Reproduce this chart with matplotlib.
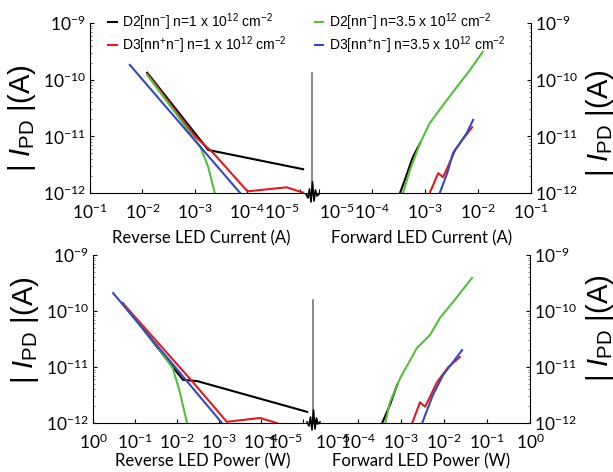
import numpy as np
import matplotlib
matplotlib.use("Agg")
import matplotlib.pyplot as plt
from matplotlib.lines import Line2D

plt.rcParams['font.family'] = ['Lato', 'DejaVu Sans']
plt.rcParams['mathtext.fontset'] = 'custom'
plt.rcParams['mathtext.rm'] = 'Liberation Sans'
plt.rcParams['mathtext.it'] = 'Liberation Sans:italic'
plt.rcParams['mathtext.bf'] = 'Liberation Sans:bold'

# ---- data ----
labels = [r"D2[nn$^{-}$] n=1 x 10$^{12}$ cm$^{-2}$",
          r"D3[nn$^{+}$n$^{-}$] n=1 x 10$^{12}$ cm$^{-2}$",
          r"D2[nn$^{-}$] n=3.5 x 10$^{12}$ cm$^{-2}$",
          r"D3[nn$^{+}$n$^{-}$] n=3.5 x 10$^{12}$ cm$^{-2}$"]
colors = ['black', '#e3191f', '#55bf3b', '#3548c4']

# reverse LED current (A) vs |I_PD| (A)
rc_black_x = [8.1e-3, 5.6e-4, 8.7e-6]
rc_black_y = [1.32e-10, 5.75e-12, 2.63e-12]
rc_red_x = [8.1e-3, 1.0e-3, 4.5e-4, 1.0e-4, 1.8e-5, 8.7e-6]
rc_red_y = [1.26e-10, 1.0e-11, 5.1e-12, 1.07e-12, 1.26e-12, 1.02e-12]
rc_green_x = [8.1e-3, 2.5e-3, 7.9e-4, 5.6e-4, 4.2e-4]
rc_green_y = [1.2e-10, 2.8e-11, 6.5e-12, 2.9e-12, 1.0e-12]
rc_blue_x = [1.74e-2, 1.38e-4]
rc_blue_y = [1.82e-10, 1.0e-12]

# forward LED current (A)
fc_black_x = [3.39e-4, 4.17e-4, 5.89e-4, 8.1e-4]
fc_black_y = [1.0e-12, 1.7e-12, 4.27e-12, 7.6e-12]
fc_red_x = [1.23e-3, 1.78e-3, 2.19e-3, 2.69e-3, 3.72e-3, 5.0e-3, 7.76e-3]
fc_red_y = [1.0e-12, 2.24e-12, 1.9e-12, 2.88e-12, 5.75e-12, 8.5e-12, 1.45e-11]
fc_green_x = [3.85e-4, 5.25e-4, 8.1e-4, 1.23e-3, 2.19e-3, 3.98e-3, 7.08e-3, 1.23e-2]
fc_green_y = [1.0e-12, 2.57e-12, 7.6e-12, 1.7e-11, 3.55e-11, 7.4e-11, 1.48e-10, 3.1e-10]
fc_blue_x = [1.9e-3, 2.63e-3, 3.39e-3, 4.57e-3, 6.17e-3, 8.1e-3]
fc_blue_y = [1.0e-12, 2.24e-12, 5.1e-12, 7.6e-12, 1.15e-11, 1.95e-11]

# reverse LED power (W)
rp_black_x = [0.195, 1.26e-2, 7.2e-3, 3.3e-3, 7.9e-6]
rp_black_y = [1.38e-10, 1.0e-11, 5.9e-12, 5.6e-12, 1.58e-12]
rp_red_x = [0.195, 4.2e-3, 6.5e-4, 1.05e-4, 4.2e-5]
rp_red_y = [1.38e-10, 5.4e-12, 1.05e-12, 1.23e-12, 1.0e-12]
rp_green_x = [0.195, 3.16e-2, 1.26e-2, 8.9e-3, 5.75e-3]
rp_green_y = [1.32e-10, 2.5e-11, 9.5e-12, 4.0e-12, 1.0e-12]
rp_blue_x = [0.331, 8.5e-4]
rp_blue_y = [2.09e-10, 1.0e-12]

# forward LED power (W)
fp_black_x = [3.63e-4, 5.5e-4, 8.1e-4]
fp_black_y = [1.0e-12, 2.1e-12, 4.8e-12]
fp_red_x = [1.82e-3, 2.75e-3, 3.63e-3, 6.9e-3, 1.26e-2, 2.34e-2]
fp_red_y = [1.0e-12, 2.34e-12, 1.95e-12, 5.4e-12, 1.0e-11, 1.51e-11]
fp_green_x = [4.27e-4, 5.5e-4, 9.5e-4, 2.34e-3, 4.68e-3, 8.1e-3, 1.62e-2, 4.47e-2]
fp_green_y = [1.0e-12, 2.34e-12, 6.3e-12, 2.19e-11, 3.7e-11, 7.6e-11, 1.45e-10, 3.9e-10]
fp_blue_x = [3.1e-3, 5.5e-3, 9.5e-3, 2.63e-2]
fp_blue_y = [1.0e-12, 3.16e-12, 7.2e-12, 2.0e-11]

W, H = 613, 472
fig = plt.figure(figsize=(W / 100, H / 100), dpi=100)


def px_axes(x0, x1, ytop, ybot):
    return fig.add_axes([x0 / W, 1 - ybot / H, (x1 - x0) / W, (ybot - ytop) / H])


def style(ax, side):
    ax.set_xscale('log')
    ax.set_yscale('log')
    ax.set_ylim(1e-12, 1e-9)
    ax.spines['top'].set_visible(False)
    ax.spines[side].set_visible(False)
    ax.tick_params(which='both', direction='in', labelsize=12.5, pad=3)
    ax.tick_params(axis='x', which='both', pad=7)
    ax.tick_params(which='major', length=3)
    ax.tick_params(which='minor', length=1.5, color='0.4')
    ax.tick_params(axis='x', which='both', top=False)
    if side == 'right':
        ax.tick_params(axis='y', which='both', right=False)
    else:
        ax.tick_params(axis='y', which='both', left=False, right=True,
                       labelleft=False, labelright=True)
    for s in ax.spines.values():
        s.set_linewidth(0.8)


def draw(ax, series):
    for (x, y), c in zip(series, colors):
        ax.plot(x, y, color=c, lw=1.5, solid_joinstyle='round')


# top panel
ax1 = px_axes(90, 312, 23, 193)
ax2 = px_axes(312, 531, 23, 193)
# bottom panel
ax3 = px_axes(93, 313, 255, 423)
ax4 = px_axes(313, 530, 255, 423)

style(ax1, 'right')
style(ax2, 'left')
style(ax3, 'right')
style(ax4, 'left')

draw(ax1, [(rc_black_x, rc_black_y), (rc_red_x, rc_red_y),
           (rc_green_x, rc_green_y), (rc_blue_x, rc_blue_y)])
draw(ax2, [(fc_black_x, fc_black_y), (fc_red_x, fc_red_y),
           (fc_green_x, fc_green_y), (fc_blue_x, fc_blue_y)])
draw(ax3, [(rp_black_x, rp_black_y), (rp_red_x, rp_red_y),
           (rp_green_x, rp_green_y), (rp_blue_x, rp_blue_y)])
draw(ax4, [(fp_black_x, fp_black_y), (fp_red_x, fp_red_y),
           (fp_green_x, fp_green_y), (fp_blue_x, fp_blue_y)])

ax1.set_xlim(1e-1, 10 ** -5.23)
ax2.set_xlim(10 ** -5.13, 1e-1)
ax3.set_xlim(1e0, 10 ** -5.24)
ax4.set_xlim(10 ** -5.05, 1e0)

ax1.set_xticks([1e-1, 1e-2, 1e-3, 1e-4, 1e-5])
ax2.set_xticks([1e-5, 1e-4, 1e-3, 1e-2, 1e-1])
ax3.set_xticks([1e0, 1e-1, 1e-2, 1e-3, 1e-4, 1e-5])
ax4.set_xticks([1e-5, 1e-4, 1e-3, 1e-2, 1e-1, 1e0])

# keep the 10^-5 labels on either side of the break apart
for ax in (ax1, ax3):
    ax.get_xticklabels()[-1].set_ha('right')
for ax in (ax2, ax4):
    ax.get_xticklabels()[0].set_ha('left')

ax1.set_xlabel('Reverse LED Current (A)', fontsize=12, labelpad=6)
ax2.set_xlabel('Forward LED Current (A)', fontsize=12, labelpad=6)
ax3.set_xlabel('Reverse LED Power (W)', fontsize=12, labelpad=0.5)
ax4.set_xlabel('Forward LED Power (W)', fontsize=12, labelpad=0.5)

# axis break marks
for xb, yt, yb in [(312, 73, 195), (313, 300, 423)]:
    fig.add_artist(Line2D([xb / W, xb / W], [1 - yt / H, 1 - yb / H],
                          color='0.45', lw=1.2))
    zx = np.array([-6, -4, -2.5, -1, 0.5, 2, 3.5, 5, 7])
    zy = np.array([0, 4, -5, 8, -12, 7, -4, 2, 0])
    fig.add_artist(Line2D((xb + zx) / W, 1 - (yb - 1 + zy) / H,
                          color='black', lw=1.2))

# y labels
ylab = r"| $\mathit{I}_{\mathrm{PD}}$ |(A)"
for x, y in [(22, 118), (600, 123), (25, 330), (600, 328)]:
    fig.text(x / W, 1 - y / H, ylab, rotation=90, ha='center', va='center',
             fontsize=21, family='Liberation Sans')

handles = [Line2D([], [], color=c, lw=1.5) for c in colors]
fig.legend(handles, labels, loc='upper left', bbox_to_anchor=(100 / W, 1 - 3 / H),
           ncol=2, frameon=False, handlelength=0.6,
           handletextpad=0.4, columnspacing=2.0, labelspacing=0.1,
           borderaxespad=0.2, prop={'family': 'Liberation Sans', 'size': 10})

fig.savefig('out.png', dpi=100)
